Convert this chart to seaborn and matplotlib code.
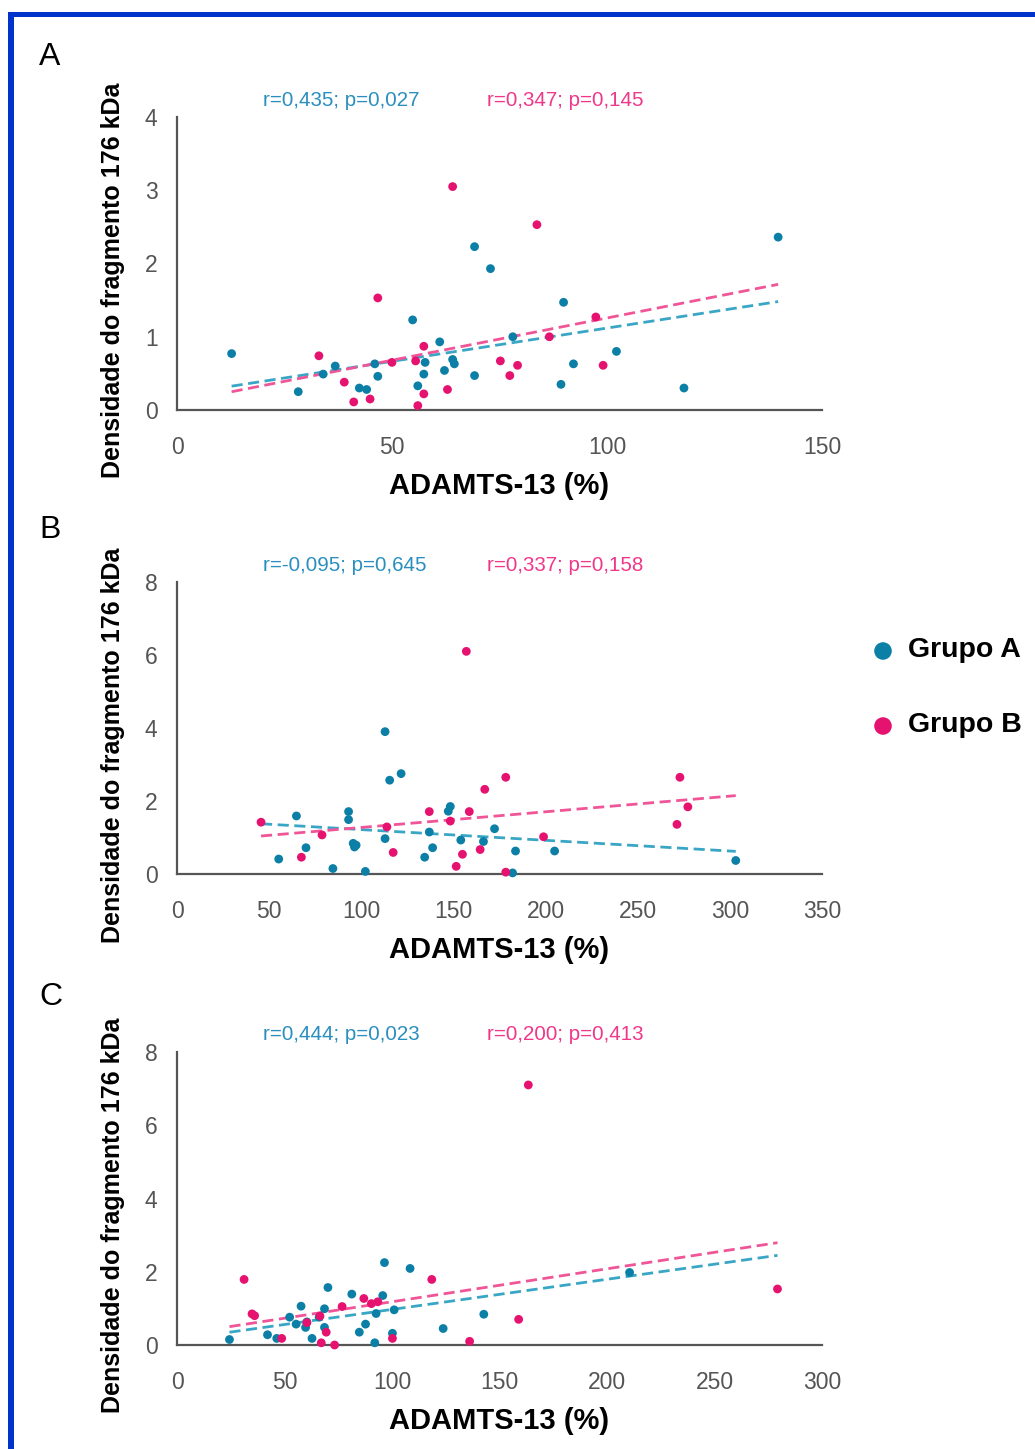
import numpy as np
import pandas as pd
import matplotlib
matplotlib.use("Agg")
import matplotlib.pyplot as plt
import matplotlib.patches as mpatches
import seaborn as sns

# ---------------- data ----------------
a_blue_x = [12.7, 28.2, 34.0, 36.8, 42.4, 44.1, 46.0, 46.7, 54.8, 56.0, 57.4, 57.7, 61.1,
            62.2, 64.1, 64.5, 69.2, 69.2, 72.9, 78.1, 89.3, 89.9, 92.2, 102.2, 117.9, 139.8]
a_blue_y = [0.77, 0.25, 0.49, 0.60, 0.30, 0.28, 0.63, 0.46, 1.23, 0.33, 0.49, 0.65, 0.93,
            0.54, 0.69, 0.63, 0.47, 2.23, 1.93, 1.00, 0.35, 1.47, 0.63, 0.80, 0.30, 2.36]
a_pink_x = [33.0, 38.9, 41.1, 44.9, 46.7, 50.0, 55.5, 56.0, 57.4, 57.4, 62.9, 64.1, 75.2,
            77.4, 79.2, 83.7, 86.6, 97.4, 99.1]
a_pink_y = [0.74, 0.38, 0.11, 0.15, 1.53, 0.65, 0.67, 0.06, 0.87, 0.22, 0.28, 3.05, 0.67,
            0.47, 0.61, 2.53, 1.00, 1.27, 0.61]

b_blue_x = [55.2, 64.8, 70.0, 84.6, 93.1, 93.1, 95.6, 96.3, 97.2, 102.2, 112.9, 112.9, 115.4,
            121.6, 134.4, 136.9, 138.7, 147.2, 148.3, 154.0, 166.3, 172.3, 182.1, 183.7, 204.9, 303.2]
b_blue_y = [0.41, 1.59, 0.72, 0.15, 1.71, 1.49, 0.84, 0.74, 0.79, 0.07, 3.90, 0.97, 2.57,
            2.75, 0.46, 1.15, 0.72, 1.72, 1.85, 0.93, 0.89, 1.24, 0.03, 0.63, 0.63, 0.37]
b_pink_x = [45.6, 67.5, 78.7, 113.9, 117.3, 136.9, 148.3, 151.5, 154.9, 157.0, 158.6, 164.5,
            167.0, 178.4, 178.4, 198.9, 271.3, 272.9, 277.2]
b_pink_y = [1.42, 0.46, 1.07, 1.29, 0.59, 1.71, 1.45, 0.21, 0.54, 6.10, 1.71, 0.67,
            2.32, 2.65, 0.05, 1.02, 1.36, 2.65, 1.84]

c_blue_x = [24.4, 42.1, 46.4, 52.4, 55.4, 57.7, 59.8, 60.4, 62.8, 66.1, 68.6, 68.6, 70.2,
            81.3, 84.8, 87.7, 92.0, 92.6, 95.7, 96.5, 100.2, 101.0, 108.4, 123.8, 142.7, 210.5]
c_blue_y = [0.15, 0.28, 0.18, 0.76, 0.57, 1.06, 0.48, 0.63, 0.18, 0.76, 0.99, 0.48, 1.57,
            1.39, 0.35, 0.57, 0.06, 0.86, 1.35, 2.25, 0.32, 0.96, 2.09, 0.45, 0.84, 1.98]
c_pink_x = [31.2, 34.9, 36.1, 48.7, 60.4, 66.5, 67.1, 69.4, 73.3, 76.8, 86.9, 90.4, 93.4,
            100.2, 118.5, 136.1, 158.9, 163.4, 279.3]
c_pink_y = [1.79, 0.85, 0.80, 0.18, 0.61, 0.79, 0.06, 0.35, 0.00, 1.05, 1.27, 1.13, 1.18,
            0.18, 1.79, 0.10, 0.70, 7.10, 1.53]

panel_letters = ["A", "B", "C"]
stats_blue = ["r=0,435; p=0,027", "r=-0,095; p=0,645", "r=0,444; p=0,023"]
stats_pink = ["r=0,347; p=0,145", "r=0,337; p=0,158", "r=0,200; p=0,413"]
x_ticks = [[0, 50, 100, 150], [0, 50, 100, 150, 200, 250, 300, 350], [0, 50, 100, 150, 200, 250, 300]]
y_ticks = [[0, 1, 2, 3, 4], [0, 2, 4, 6, 8], [0, 2, 4, 6, 8]]
group_names = ["Grupo A", "Grupo B"]
x_label = "ADAMTS-13 (%)"
y_label = "Densidade do fragmento 176 kDa"

# ---------------- style ----------------
sns.set_theme(style="white")
plt.rcParams["font.family"] = ["Liberation Sans", "DejaVu Sans"]

BLUE = "#0b7fa6"
PINK = "#e5136f"
BLUE_LINE = "#3aa6c6"
PINK_LINE = "#f05598"
GRAY = "#555555"

W, H = 1035, 1449
fig = plt.figure(figsize=(W / 100, H / 100), dpi=100)

# frame (blue border at top and left)
fig.add_artist(mpatches.Rectangle((8 / W, 0), 6 / W, (H - 12) / H, transform=fig.transFigure,
                                  color="#0033cc", lw=0))
fig.add_artist(mpatches.Rectangle((8 / W, (H - 17) / H), (W - 8) / W, 5 / H, transform=fig.transFigure,
                                  color="#0033cc", lw=0))

# axes pixel boxes: (top_px, bottom_px)
boxes = [(117, 410), (582, 874), (1052, 1345)]
x_left, x_right = 177, 822
letter_y = [57, 530, 997]

panels = [
    (a_blue_x, a_blue_y, a_pink_x, a_pink_y),
    (b_blue_x, b_blue_y, b_pink_x, b_pink_y),
    (c_blue_x, c_blue_y, c_pink_x, c_pink_y),
]

for i, (bx, by, px, py) in enumerate(panels):
    top, bot = boxes[i]
    ax = fig.add_axes([x_left / W, (H - bot) / H, (x_right - x_left) / W, (bot - top) / H])
    df = pd.DataFrame({
        "x": list(bx) + list(px),
        "y": list(by) + list(py),
        "g": [group_names[0]] * len(bx) + [group_names[1]] * len(px),
    })
    sns.scatterplot(data=df, x="x", y="y", hue="g", palette=[BLUE, PINK], s=40,
                    edgecolor="none", ax=ax, legend=False, zorder=3, clip_on=False)
    xmin, xmax = min(df["x"]), max(df["x"])
    xs = np.array([xmin, xmax])
    for gx, gy, col in [(bx, by, BLUE_LINE), (px, py, PINK_LINE)]:
        k, b0 = np.polyfit(gx, gy, 1)
        sns.lineplot(x=xs, y=k * xs + b0, ax=ax, color=col, lw=2.0, zorder=2,
                     linestyle=(0, (4, 2)))
    ax.set_xlim(x_ticks[i][0], x_ticks[i][-1])
    ax.set_ylim(y_ticks[i][0], y_ticks[i][-1])
    ax.set_xticks(x_ticks[i])
    ax.set_yticks(y_ticks[i])
    for s in ["top", "right"]:
        ax.spines[s].set_visible(False)
    for s in ["left", "bottom"]:
        ax.spines[s].set_color(GRAY)
        ax.spines[s].set_linewidth(1.6)
    ax.tick_params(axis="both", direction="in", length=6, width=1.4, color=GRAY,
                   labelcolor=GRAY, labelsize=16.5)
    ax.tick_params(axis="x", pad=19)
    ax.tick_params(axis="y", pad=14)
    ax.set_xlabel(x_label, fontsize=21, fontweight="bold", color="black", labelpad=9)
    ax.set_ylabel("")
    ax.grid(False)
    ax.patch.set_alpha(0)

    # y label
    fig.text(113 / W, 1 - ((top + bot) / 2 + 17) / H, y_label, rotation=90, ha="center",
             va="center", fontsize=18, fontweight="bold", color="black")
    # panel letter
    fig.text(39 / W, 1 - letter_y[i] / H, panel_letters[i], fontsize=23, ha="left",
             va="center", color="black")
    # stats
    sy = 1 - (top - 17) / H
    fig.text(263 / W, sy, stats_blue[i], fontsize=14.8, color="#2a8fbf", ha="left", va="center")
    fig.text(487 / W, sy, stats_pink[i], fontsize=14.8, color="#f0388a", ha="left", va="center")

# legend
for j, name in enumerate(group_names):
    yy = 651 + j * 75
    fig.text(908 / W, 1 - (yy - 1) / H, name, fontsize=20.5, fontweight="bold", color="black",
             ha="left", va="center")
legend_ax = fig.add_axes([0, 0, 1, 1], zorder=-1)
legend_ax.set_xlim(0, W)
legend_ax.set_ylim(H, 0)
legend_ax.axis("off")
sns.scatterplot(x=[883, 883], y=[651, 726], hue=group_names, palette=[BLUE, PINK], s=160,
                edgecolor="none", ax=legend_ax, legend=False)

fig.savefig("out.png", dpi=100, facecolor="white")
